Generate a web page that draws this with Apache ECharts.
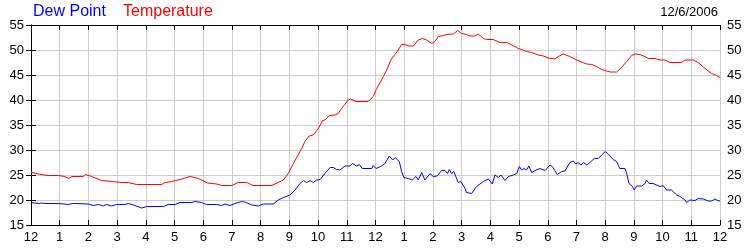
<!DOCTYPE html>
<html>
<head>
<meta charset="utf-8">
<script src="https://cdn.jsdelivr.net/npm/echarts@6/dist/echarts.min.js"></script>
<style>html,body{margin:0;padding:0;background:#fff}#c{width:750px;height:250px}</style>
</head>
<body>
<div id="c"></div>
<script>
const hourLabels = ['12','1','2','3','4','5','6','7','8','9','10','11','12','1','2','3','4','5','6','7','8','9','10','11','12'];
const yTicks = [15, 20, 25, 30, 35, 40, 45, 50, 55];
const dateText = '12/6/2006';

const tempHours = [0,0.25,0.6,0.95,1.18,1.3,1.42,1.82,1.9,2.11,2.46,2.81,3.16,3.39,3.68,4.55,4.67,4.9,5.25,5.54,5.6,5.83,6.15,6.47,6.64,6.99,7.22,7.51,7.74,8.38,8.61,8.79,8.96,9.14,9.37,9.43,9.54,9.69,9.83,10.01,10.16,10.24,10.39,10.59,10.7,10.82,11.05,11.13,11.32,11.75,11.92,12.04,12.21,12.39,12.56,12.68,12.79,12.91,13.03,13.14,13.32,13.49,13.64,13.78,13.96,14.07,14.19,14.36,14.48,14.71,14.86,15.0,15.17,15.29,15.46,15.58,15.76,15.87,16.1,16.33,16.57,16.68,16.86,16.97,17.09,17.26,17.44,17.67,17.85,18.02,18.25,18.4,18.54,18.77,19.01,19.18,19.36,19.53,19.7,19.88,20.05,20.17,20.4,20.57,20.75,20.92,21.04,21.21,21.38,21.5,21.73,21.91,22.08,22.26,22.66,22.78,23.07,23.24,23.48,23.71,23.88,24];
const tempValues = [25.6,25.2,24.9,24.9,24.7,24.3,24.7,24.7,25.1,24.7,23.9,23.7,23.5,23.5,23.1,23.1,23.5,23.7,24.2,24.7,24.8,24.3,23.4,23.2,22.9,22.9,23.5,23.5,22.9,22.9,23.5,24,25.3,27.3,29.7,30.3,31.7,32.8,33,34.3,35.9,36,36.9,37,37.3,38.3,40,40.2,39.7,39.7,40.7,42.3,44,46,48.3,49.1,50,51.1,51.1,50.8,50.8,52,52.3,52,51.3,51.7,52.7,52.9,53.1,53.2,53.9,53.3,53.1,52.8,52.8,53.2,52.3,52.1,52.1,51.5,51.5,51.2,50.7,50.3,50.1,49.7,49.5,49,48.8,48.4,48.2,48.8,49.2,48.7,48,47.6,47.2,47.1,46.7,46.1,45.8,45.6,45.6,46.5,47.7,48.9,49.2,49.1,48.7,48.3,48.3,48,48,47.5,47.5,48,48,47.5,46.3,45.3,44.9,44.5];

const dewHours = [0,0.14,0.25,0.37,0.49,0.95,1.3,1.47,2.0,2.17,2.35,2.52,2.63,2.81,2.98,3.27,3.39,3.62,3.85,4.03,4.61,4.78,5.02,5.19,5.6,5.71,5.94,6.12,6.47,6.64,6.76,6.93,7.1,7.34,7.45,7.69,7.92,8.09,8.44,8.61,8.79,9.02,9.2,9.37,9.49,9.6,9.72,9.83,9.95,10.07,10.24,10.42,10.53,10.65,10.76,10.94,11.11,11.2,11.34,11.44,11.54,11.87,11.92,12.02,12.21,12.33,12.48,12.6,12.68,12.83,12.91,12.99,13.14,13.28,13.41,13.49,13.61,13.72,13.9,14.01,14.15,14.3,14.42,14.51,14.57,14.65,14.73,14.88,14.97,15.12,15.17,15.35,15.52,15.76,15.93,16.07,16.16,16.28,16.37,16.51,16.63,16.8,16.92,17.01,17.09,17.17,17.26,17.34,17.44,17.59,17.73,17.91,18.08,18.16,18.33,18.49,18.6,18.77,18.89,18.97,19.06,19.16,19.24,19.36,19.47,19.53,19.62,19.76,19.88,20,20.11,20.28,20.4,20.51,20.69,20.75,20.83,20.95,21.01,21.1,21.27,21.39,21.44,21.53,21.67,21.73,21.91,22.02,22.14,22.31,22.49,22.61,22.78,22.84,22.95,23.13,23.24,23.42,23.59,23.71,23.82,23.92,24];
const dewValues = [19.5,19.4,19.3,19.4,19.3,19.3,19.1,19.3,19.2,18.9,19.1,18.8,19.1,18.8,19.1,19.1,19.3,18.9,18.4,18.7,18.7,19.1,19.1,19.5,19.5,19.7,19.5,19.1,19.1,18.9,19.2,18.9,19.3,19.7,19.6,19.0,18.8,19.2,19.2,20.0,20.5,21,22,23.3,23.9,23.5,23.9,23.5,24,24.1,25.3,26.5,26.5,26.1,26,26.8,26.8,27.3,26.8,27.1,26.3,26.3,26.9,26.3,26.8,27.3,28.8,28,28.5,27.7,25.7,24.5,24.3,24,24.7,24,25.5,24,25.3,24.7,24.8,25.9,25.9,25.3,26.1,25.3,25.7,23.5,23.7,22.3,21.5,21.3,22.7,23.7,24.2,23.2,25,24.5,25,23.9,24.7,25,25.3,26.7,26,26.3,26,26.8,25.5,26,26.3,25.9,27,26.7,25.1,25.7,25.8,27.5,27.8,27.2,27.5,27,27.5,27,27.5,27.2,28.3,28.3,29,29.7,29.2,28.1,27.7,26.3,26.3,25.3,23.3,22.7,22,22.8,22.8,23.3,24,23.3,23.3,23.7,22.7,22.9,22,22,21,20.7,20,19.5,20,19.9,20.3,20.2,19.8,19.8,20.2,19.9,19.8];

const FONT = "'Liberation Sans', Arial, sans-serif";
const pair = (hs, vs) => hs.map((h, i) => [h, vs[i]]);

const axisBase = {
  type: 'value', min: 0, max: 24, interval: 1,
  axisLine: { show: true, lineStyle: { color: '#000', width: 1 } },
  axisTick: { show: true, inside: true, length: 5, lineStyle: { color: '#000' } }
};
const yBase = {
  type: 'value', min: yTicks[0], max: yTicks[yTicks.length - 1], interval: 5,
  axisLine: { show: true, lineStyle: { color: '#000', width: 1 } },
  axisTick: { show: true, inside: true, length: 5, lineStyle: { color: '#000' } },
  axisLabel: { color: '#000', fontSize: 13, fontFamily: FONT, margin: 7 }
};

const chart = echarts.init(document.getElementById('c'), null, { renderer: 'canvas' });
chart.setOption({
  animation: false,
  backgroundColor: '#fff',
  title: [
    { text: 'Dew Point', left: 33, top: 4, padding: 0, textStyle: { color: '#0000ff', fontSize: 16, fontWeight: 'normal', fontFamily: FONT } },
    { text: 'Temperature', left: 123, top: 4, padding: 0, textStyle: { color: '#ff0000', fontSize: 16, fontWeight: 'normal', fontFamily: FONT } },
    { text: dateText, right: 32, top: 6, padding: 0, textStyle: { color: '#000', fontSize: 13, fontWeight: 'normal', fontFamily: FONT } }
  ],
  grid: { left: 31, right: 30, top: 25, bottom: 25, containLabel: false },
  xAxis: [
    Object.assign({}, axisBase, {
      position: 'bottom',
      axisLabel: { color: '#000', fontSize: 13, fontFamily: FONT, margin: 6, formatter: v => hourLabels[Math.round(v)] },
      splitLine: { show: true, lineStyle: { color: '#cccccc', width: 1 } }
    }),
    Object.assign({}, axisBase, {
      position: 'top',
      axisLabel: { show: false },
      splitLine: { show: false }
    })
  ],
  yAxis: [
    Object.assign({}, yBase, { position: 'left', splitLine: { show: true, lineStyle: { color: '#cccccc', width: 1 } } }),
    Object.assign({}, yBase, { position: 'right', splitLine: { show: false } })
  ],
  series: [
    { name: 'Dew Point', type: 'line', xAxisIndex: 0, yAxisIndex: 0, data: pair(dewHours, dewValues), showSymbol: false, lineStyle: { color: '#0000ff', width: 1 }, itemStyle: { color: '#0000ff' } },
    { name: 'Temperature', type: 'line', xAxisIndex: 0, yAxisIndex: 0, data: pair(tempHours, tempValues), showSymbol: false, lineStyle: { color: '#ff0000', width: 1 }, itemStyle: { color: '#ff0000' } }
  ]
});
</script>
</body>
</html>
